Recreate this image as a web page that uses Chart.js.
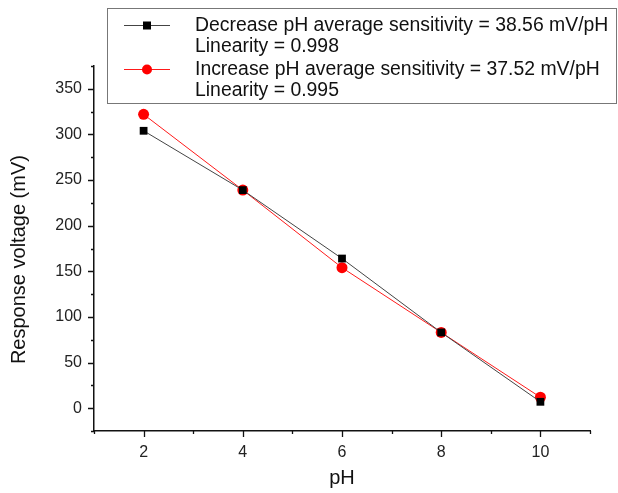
<!DOCTYPE html>
<html>
<head>
<meta charset="utf-8">
<script src="https://cdn.jsdelivr.net/npm/chart.js@4"></script>
<style>
  html, body { margin: 0; padding: 0; background: #fff; }
  #wrap { width: 618px; height: 493px; }
</style>
</head>
<body>
<div id="wrap"><canvas id="chart"></canvas></div>
<script>
const phValues = [2, 4, 6, 8, 10];
const decreaseMv = [304, 239, 164, 83, 7];
const increaseMv = [322, 239, 154, 83, 12];
const legendLines = [
  ["Decrease pH average sensitivity = 38.56 mV/pH", "Linearity = 0.998"],
  ["Increase pH average sensitivity = 37.52 mV/pH", "Linearity = 0.995"],
];

const toPoints = (ys) => phValues.map((x, i) => ({ x: x, y: ys[i] }));

// major / minor tick marks, drawn from the scales' own ticks
const tickMarks = {
  id: "tickMarks",
  afterDraw(chart) {
    const ctx = chart.ctx;
    const xs = chart.scales.x;
    const ys = chart.scales.y;
    ctx.save();
    ctx.strokeStyle = "#111";
    ctx.lineWidth = 1.3;
    ctx.beginPath();
    ys.ticks.forEach((t) => {
      const py = Math.round(ys.getPixelForValue(t.value)) + 0.5;
      const len = t.value % 50 === 0 && t.value >= 0 && t.value <= 350 ? 6 : 3;
      ctx.moveTo(ys.right, py);
      ctx.lineTo(ys.right - len, py);
    });
    xs.ticks.forEach((t) => {
      const px = Math.round(xs.getPixelForValue(t.value)) + 0.5;
      const len = t.value % 2 === 0 && t.value >= 2 && t.value <= 10 ? 6 : 3;
      ctx.moveTo(px, xs.top);
      ctx.lineTo(px, xs.top + len);
    });
    ctx.stroke();
    ctx.restore();
  },
};

// boxed legend with two-line entries
const boxLegend = {
  id: "boxLegend",
  afterDraw(chart) {
    const ctx = chart.ctx;
    ctx.save();
    ctx.fillStyle = "#fff";
    ctx.fillRect(107, 8, 509, 95);
    ctx.strokeStyle = "#777";
    ctx.lineWidth = 1;
    ctx.strokeRect(107.5, 8.5, 509, 95);
    ctx.font = "19.4px 'Liberation Sans', Arial, sans-serif";
    ctx.textBaseline = "middle";
    chart.data.datasets.forEach((ds, i) => {
      const y = 25 + i * 44;
      ctx.strokeStyle = ds.borderColor;
      ctx.lineWidth = 1;
      ctx.beginPath();
      ctx.moveTo(124, y + 0.5);
      ctx.lineTo(170, y + 0.5);
      ctx.stroke();
      ctx.fillStyle = ds.backgroundColor;
      if (ds.pointStyle === "rect") {
        ctx.fillRect(147 - 4, y - 3.5, 8, 8);
      } else {
        ctx.beginPath();
        ctx.arc(147, y + 0.5, 5, 0, Math.PI * 2);
        ctx.fill();
      }
      ctx.fillStyle = "#111";
      ctx.fillText(legendLines[i][0], 195, y + 1);
      ctx.fillText(legendLines[i][1], 195, y + 22);
    });
    ctx.restore();
  },
};

const tickFont = { family: "'Liberation Sans', Arial, sans-serif", size: 16 };
const titleFont = { family: "'Liberation Sans', Arial, sans-serif", size: 20 };

new Chart(document.getElementById("chart"), {
  type: "scatter",
  data: {
    datasets: [
      {
        label: "Decrease",
        data: toPoints(decreaseMv),
        showLine: true,
        borderColor: "#444",
        backgroundColor: "#000",
        borderWidth: 1,
        pointStyle: "rect",
        pointRadius: 5.5,
        pointBorderWidth: 0,
      },
      {
        label: "Increase",
        data: toPoints(increaseMv),
        showLine: true,
        borderColor: "#ff1a1a",
        backgroundColor: "#ff0000",
        borderWidth: 1,
        pointStyle: "circle",
        pointRadius: 5.5,
        pointBorderWidth: 0,
      },
    ],
  },
  options: {
    responsive: true,
    maintainAspectRatio: false,
    animation: false,
    layout: { padding: { top: 66, right: 28, left: 0, bottom: 0 } },
    plugins: { legend: { display: false }, tooltip: { enabled: false } },
    scales: {
      x: {
        type: "linear",
        min: 1,
        max: 11,
        grid: { display: false, drawTicks: false },
        border: { display: true, color: "#111", width: 1.5 },
        ticks: {
          stepSize: 1,
          padding: 12,
          color: "#222",
          font: tickFont,
          maxRotation: 0,
          callback: (v) => (v % 2 === 0 && v >= 2 && v <= 10 ? v : ""),
        },
        title: {
          display: true,
          text: "pH",
          color: "#111",
          font: titleFont,
          padding: { top: 0, bottom: 3 },
        },
        afterFit: (s) => { s.height = 62; },
      },
      y: {
        min: -25,
        max: 375,
        grid: { display: false, drawTicks: false },
        border: { display: true, color: "#111", width: 1.5 },
        ticks: {
          stepSize: 25,
          padding: 12,
          color: "#222",
          font: tickFont,
          callback: (v) => (v % 50 === 0 && v >= 0 && v <= 350 ? v : ""),
        },
        title: {
          display: true,
          text: "Response voltage (mV)    ",
          color: "#111",
          font: titleFont,
          padding: { top: 7, bottom: 0 },
        },
        afterFit: (s) => { s.width = 94; },
      },
    },
  },
  plugins: [tickMarks, boxLegend],
});
</script>
</body>
</html>
